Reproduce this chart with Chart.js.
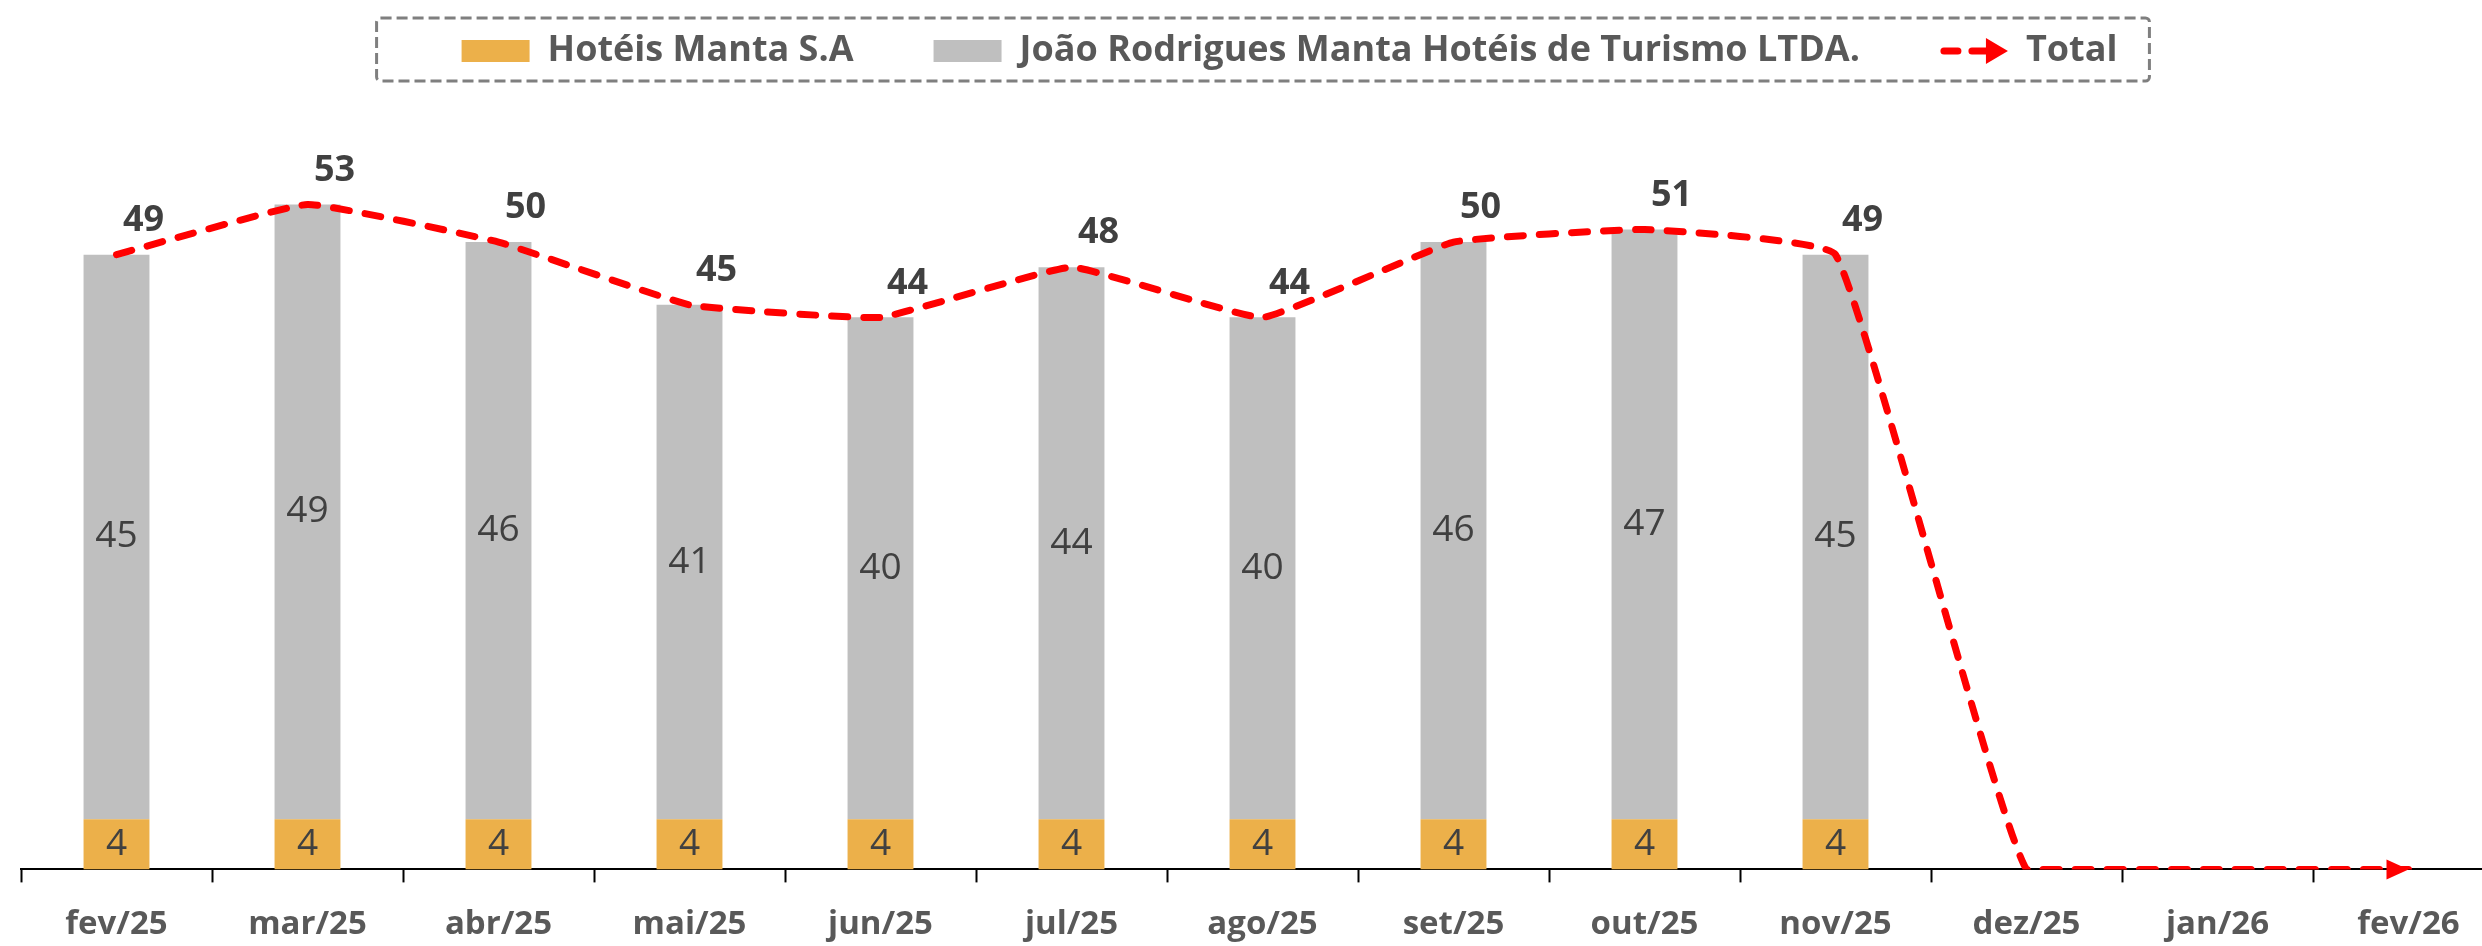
<!DOCTYPE html>
<html>
<head>
<meta charset="utf-8">
<script src="https://cdn.jsdelivr.net/npm/chart.js@4.4.0/dist/chart.umd.min.js"></script>
<style>
    html, body { margin: 0; padding: 0; background: #fff; overflow: hidden; }
    #wrap { width: 2504px; height: 946px; position: absolute; left: 0; top: 0; }
</style>
</head>
<body>
<div id="wrap"><canvas id="chart"></canvas></div>
<script>
var months = ['fev/25', 'mar/25', 'abr/25', 'mai/25', 'jun/25', 'jul/25', 'ago/25', 'set/25', 'out/25', 'nov/25', 'dez/25', 'jan/26', 'fev/26'];
var hoteisManta = [4, 4, 4, 4, 4, 4, 4, 4, 4, 4, null, null, null];
var joaoRodrigues = [45, 49, 46, 41, 40, 44, 40, 46, 47, 45, null, null, null];
var totals = [49, 53, 50, 45, 44, 48, 44, 50, 51, 49, 0, 0, 0];

var FONT = "'Open Sans', 'Noto Sans', sans-serif";
var RED = '#FF0000';

// value labels: inside the bars and above the total line
var valueLabels = {
    id: 'valueLabels',
    afterDatasetsDraw: function (chart) {
        var ctx = chart.ctx;
        ctx.save();
        ctx.textAlign = 'center';
        ctx.textBaseline = 'middle';
        ctx.fillStyle = '#404040';
        chart.data.datasets.forEach(function (ds, i) {
            var meta = chart.getDatasetMeta(i);
            meta.data.forEach(function (el, j) {
                var v = ds.data[j];
                if (v === null || v === 0) {
                    return;
                }
                if (ds.type === 'line') {
                    ctx.font = 'bold 36px ' + FONT;
                    ctx.fillText(v, el.x + 27, el.y - 34);
                } else {
                    ctx.font = '37px ' + FONT;
                    ctx.fillText(v, el.x, (el.y + el.base) / 2);
                }
            });
        });
        ctx.restore();
    }
};

function arrowHead(ctx, x, y, len, half) {
    ctx.beginPath();
    ctx.moveTo(x, y);
    ctx.lineTo(x - len, y - half);
    ctx.lineTo(x - len, y + half);
    ctx.closePath();
    ctx.fill();
}

// arrow at the end of the total line
var lineArrow = {
    id: 'lineArrow',
    afterDatasetsDraw: function (chart) {
        var meta = chart.getDatasetMeta(2);
        var last = meta.data[meta.data.length - 1];
        var ctx = chart.ctx;
        ctx.save();
        ctx.fillStyle = RED;
        arrowHead(ctx, last.x, last.y, 22, 10);
        ctx.restore();
    }
};

// dashed frame round the legend, and the legend marker for Total
var legendFrame = {
    id: 'legendFrame',
    afterLayout: function (chart) {
        // the legend sits a little right of centre in the original
        chart.legend.left += 27;
        chart.legend.right += 27;
    },
    afterDraw: function (chart) {
        var boxes = chart.legend.legendHitBoxes;
        if (!boxes || !boxes.length) {
            return;
        }
        var ctx = chart.ctx;
        var first = boxes[0];
        var lastBox = boxes[boxes.length - 1];
        var left = first.left - 85;
        var right = lastBox.left + lastBox.width + 32;
        var top = first.top - 15;
        var bottom = first.top + first.height + 12;

        ctx.save();
        ctx.strokeStyle = '#7F7F7F';
        ctx.lineWidth = 3;
        ctx.setLineDash([11, 5]);
        ctx.beginPath();
        ctx.roundRect(left, top, right - left, bottom - top, 4);
        ctx.stroke();

        var cy = lastBox.top + lastBox.height / 2;
        var x0 = lastBox.left + 4;
        var x1 = lastBox.left + 68;
        ctx.strokeStyle = RED;
        ctx.fillStyle = RED;
        ctx.lineWidth = 7;
        ctx.lineCap = 'round';
        ctx.setLineDash([14, 14]);
        ctx.beginPath();
        ctx.moveTo(x0, cy);
        ctx.lineTo(x1 - 18, cy);
        ctx.stroke();
        ctx.setLineDash([]);
        arrowHead(ctx, x1, cy, 22, 13);
        ctx.restore();
    }
};

var ctx = document.getElementById('chart').getContext('2d');
new Chart(ctx, {
    data: {
        labels: months,
        datasets: [
            {
                type: 'bar',
                label: 'Hotéis Manta S.A',
                data: hoteisManta,
                backgroundColor: '#ECB04A',
                stack: 'bars',
                order: 2,
                categoryPercentage: 1,
                barPercentage: 0.345
            },
            {
                type: 'bar',
                label: 'João Rodrigues Manta Hotéis de Turismo LTDA.',
                data: joaoRodrigues,
                backgroundColor: '#BFBFBF',
                stack: 'bars',
                order: 2,
                categoryPercentage: 1,
                barPercentage: 0.345
            },
            {
                type: 'line',
                label: 'Total',
                data: totals,
                borderColor: RED,
                borderWidth: 7,
                borderDash: [16, 16],
                borderCapStyle: 'round',
                tension: 0.1,
                pointRadius: 0,
                fill: false,
                stack: 'total',
                order: 1
            }
        ]
    },
    options: {
        responsive: true,
        maintainAspectRatio: false,
        animation: false,
        layout: {
            padding: {left: 21, right: 0, top: -47, bottom: -20}
        },
        plugins: {
            legend: {
                position: 'top',
                labels: {
                    color: '#595959',
                    font: {family: FONT, size: 36, weight: 'bold'},
                    boxWidth: 68,
                    boxHeight: 22,
                    padding: 80,
                    generateLabels: function (chart) {
                        return chart.data.datasets.map(function (ds, i) {
                            var isLine = ds.type === 'line';
                            return {
                                text: ds.label,
                                fillStyle: isLine ? 'rgba(0,0,0,0)' : ds.backgroundColor,
                                strokeStyle: 'rgba(0,0,0,0)',
                                lineWidth: 0,
                                fontColor: '#595959',
                                datasetIndex: i
                            };
                        });
                    }
                }
            },
            tooltip: {enabled: false}
        },
        scales: {
            x: {
                stacked: true,
                grid: {
                    display: true,
                    drawOnChartArea: false,
                    drawTicks: true,
                    tickLength: 13,
                    tickColor: '#000',
                    tickWidth: 2,
                    offset: true
                },
                border: {display: true, color: '#000', width: 2},
                ticks: {
                    color: '#595959',
                    font: {family: FONT, size: 33, weight: 'bold'},
                    padding: 22,
                    maxRotation: 0,
                    autoSkip: false
                }
            },
            y: {
                stacked: true,
                display: false,
                min: 0,
                max: 63
            }
        }
    },
    plugins: [valueLabels, lineArrow, legendFrame]
});
</script>
</body>
</html>
